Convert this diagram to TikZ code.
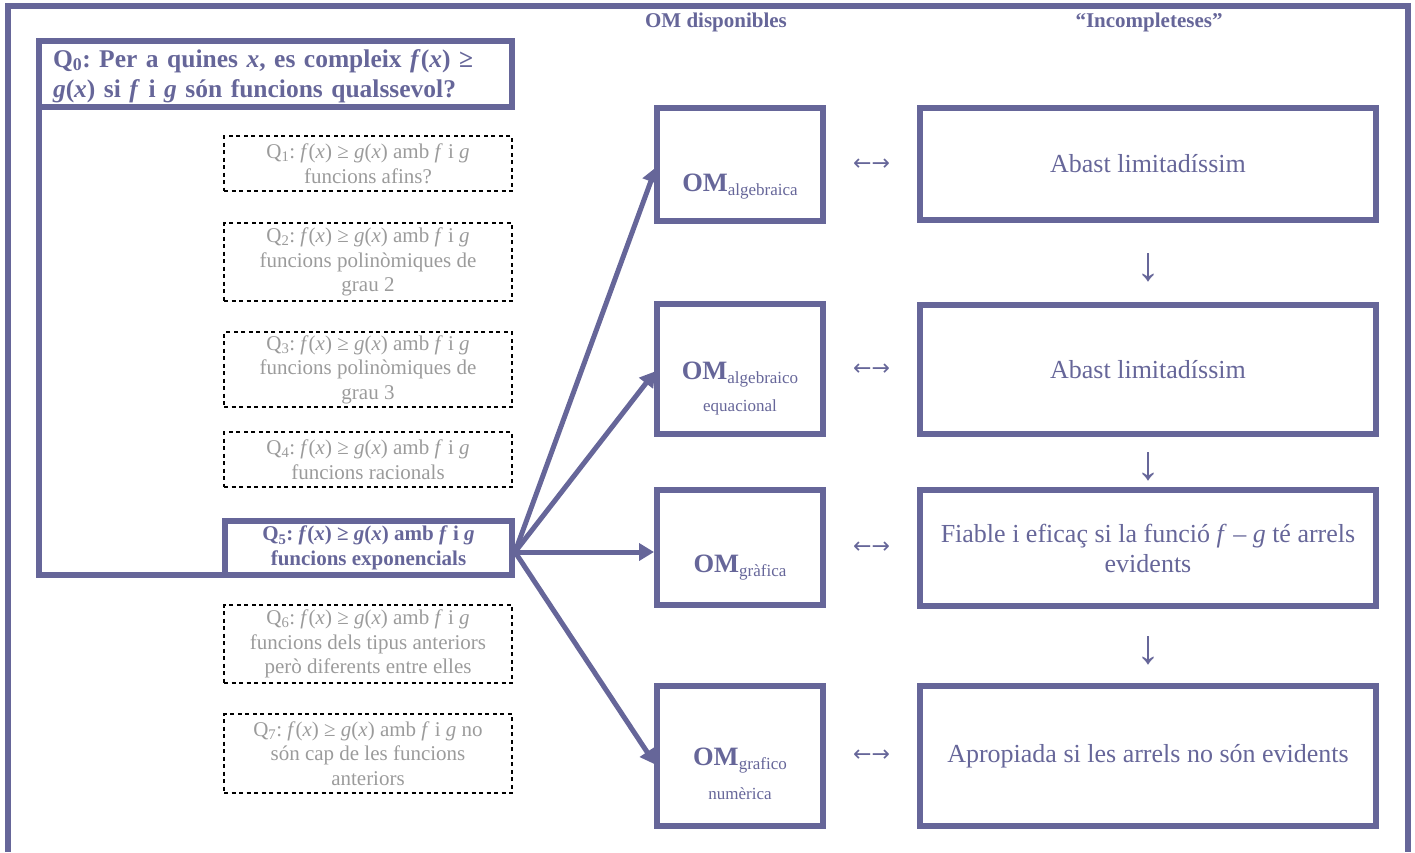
\documentclass[tikz,border=0pt]{standalone}
\usepackage{fontspec}
\setmainfont{Liberation Serif}
\newfontfamily\symfont{DejaVu Sans}
\usetikzlibrary{arrows.meta,calc}
\definecolor{frame}{RGB}{102,102,153}
\definecolor{qgrey}{RGB}{155,155,155}
\newcommand{\fsz}[2]{\fontsize{#1}{#2}\selectfont}
\newcommand{\fx}{\textit{f}(\textit{x})}
\newcommand{\gx}{\textit{g}(\textit{x})}
\frenchspacing

\begin{document}
\begin{tikzpicture}[x=1pt,y=-1pt,
  frameline/.style={draw=frame,line width=6pt},
  solidbox/.style={frameline,rectangle,inner sep=0pt,outer sep=0pt},
  qbox/.style={draw=black,line width=1.8pt,dash pattern=on 4pt off 3.5pt,
    rectangle,inner sep=0pt,outer sep=0pt,minimum width=288pt,
    align=center,text=qgrey,font=\fsz{21}{24.5}},
  ombox/.style={solidbox,minimum width=166pt},
  omlabel/.style={text=frame,inner sep=0pt,anchor=base},
  rbox/.style={solidbox,minimum width=456pt,align=center,text=frame,
    font=\fsz{26}{30}},
  link/.style={draw=frame,line width=5pt,shorten >=3pt,
    -{Triangle[length=15pt,width=17pt]}},
  sym/.style={text=frame,inner sep=0pt},
  header/.style={text=frame,font=\fsz{21}{25}\bfseries,anchor=base}
]
\useasboundingbox (0,0) rectangle (1415,852);

% outer frame, open at the bottom
\coordinate (fbl) at (8,852);
\coordinate (fbr) at (1408,852);
\draw[frameline] (fbl) -- (8,6) -- (1408,6) -- (fbr);

% column headers
\node[header] (h1) at (716,27) {OM disponibles};
\node[header] (h2) at (1149,27) {“Incompleteses”};

% the general question and its sub-questions
\node[solidbox,minimum width=473pt,minimum height=66pt] (q0) at (275.5,74) {};
\node[text width=445pt,align=left,inner sep=0pt,text=frame,
  font=\fsz{25.5}{30.5}\bfseries] (q0t) at ([yshift=-2pt]q0.center)
  {Q\textsubscript{0}: Per a quines \textit{x}, es compleix \fx{} ≥\\
   \gx{} si \textit{f} i \textit{g} són funcions qualssevol?};

\node[qbox,minimum height=55pt] (q1) at (368,163.5)
  {Q\textsubscript{1}: \fx{} ≥ \gx{} amb \textit{f} i \textit{g}\\funcions afins?};
\node[qbox,minimum height=78pt] (q2) at (368,262)
  {Q\textsubscript{2}: \fx{} ≥ \gx{} amb \textit{f} i \textit{g}\\funcions polinòmiques de\\grau 2};
\node[qbox,minimum height=75pt] (q3) at (368,369.5)
  {Q\textsubscript{3}: \fx{} ≥ \gx{} amb \textit{f} i \textit{g}\\funcions polinòmiques de\\grau 3};
\node[qbox,minimum height=55pt] (q4) at (368,459.5)
  {Q\textsubscript{4}: \fx{} ≥ \gx{} amb \textit{f} i \textit{g}\\funcions racionals};
\node[solidbox,minimum width=287pt,minimum height=54pt,align=center,
  text=frame,font=\fsz{21}{24.5}\bfseries] (q5) at (368.5,548)
  {Q\textsubscript{5}: \fx{} ≥ \gx{} amb \textit{f} i \textit{g}\\funcions exponencials};
\node[qbox,minimum height=78pt] (q6) at (368,644)
  {Q\textsubscript{6}: \fx{} ≥ \gx{} amb \textit{f} i \textit{g}\\funcions dels tipus anteriors\\però diferents entre elles};
\node[qbox,minimum height=79pt] (q7) at (368,753.5)
  {Q\textsubscript{7}: \fx{} ≥ \gx{} amb \textit{f} i \textit{g} no\\són cap de les funcions\\anteriors};

% enclosing outline of the question family
\draw[frameline] (q0.south west) |- (q5.south west);

% available mathematical organisations
\node[ombox,minimum height=113pt] (om1) at (740,164.5) {};
\node[ombox,minimum height=130pt] (om2) at (740,369) {};
\node[ombox,minimum height=115pt] (om3) at (740,547.5) {};
\node[ombox,minimum height=140pt] (om4) at (740,756) {};

\node[omlabel] (om1a) at (740,191)
  {{\fsz{26.5}{30}\bfseries OM}\raisebox{-4pt}{\fsz{17}{20}algebraica}};
\node[omlabel] (om2a) at (740,379)
  {{\fsz{26.5}{30}\bfseries OM}\raisebox{-4pt}{\fsz{17}{20}algebraico}};
\node[omlabel,font=\fsz{17}{20}] (om2b) at (740,411) {equacional};
\node[omlabel] (om3a) at (740,572)
  {{\fsz{26.5}{30}\bfseries OM}\raisebox{-4pt}{\fsz{17}{20}gràfica}};
\node[omlabel] (om4a) at (740,765)
  {{\fsz{26.5}{30}\bfseries OM}\raisebox{-4pt}{\fsz{17}{20}grafico}};
\node[omlabel,font=\fsz{17}{20}] (om4b) at (740,799) {numèrica};

% their shortcomings
\node[rbox,minimum height=112pt] (r1) at (1148,164) {Abast limitadíssim};
\node[rbox,minimum height=129pt] (r2) at (1148,369.5) {Abast limitadíssim};
\node[rbox,minimum height=116pt] (r3) at (1148,548)
  {Fiable i eficaç si la funció \textit{f} – \textit{g} té arrels\\evidents};
\node[rbox,minimum height=140pt] (r4) at (1148,756)
  {Apropiada si les arrels no són evidents};

% correspondences and progression
\foreach \i in {1,2,3,4}
  \node[sym,font=\symfont\fsz{22}{26}] (lr\i) at ($(om\i.east)!0.5!(r\i.west)$) {←→};
\node[sym,font=\fsz{48}{54}] (d1) at ([yshift=-5pt]$(r1.south)!0.5!(r2.north)$) {↓};
\node[sym,font=\fsz{48}{54}] (d2) at ([yshift=-5pt]$(r2.south)!0.5!(r3.north)$) {↓};
\node[sym,font=\fsz{48}{54}] (d3) at ([yshift=-5pt]$(r3.south)!0.5!(r4.north)$) {↓};

% arrows from the chosen question to the organisations
\coordinate (hub) at ([xshift=3pt,yshift=-4pt]q5.east);
\draw[link] (hub) -- (om1.west);
\draw[link] (hub) -- (om2.west);
\draw[link] (hub) -- (om3.west |- hub);
\draw[link] (hub) -- ([yshift=-11pt]om4.west);
\end{tikzpicture}
\end{document}
